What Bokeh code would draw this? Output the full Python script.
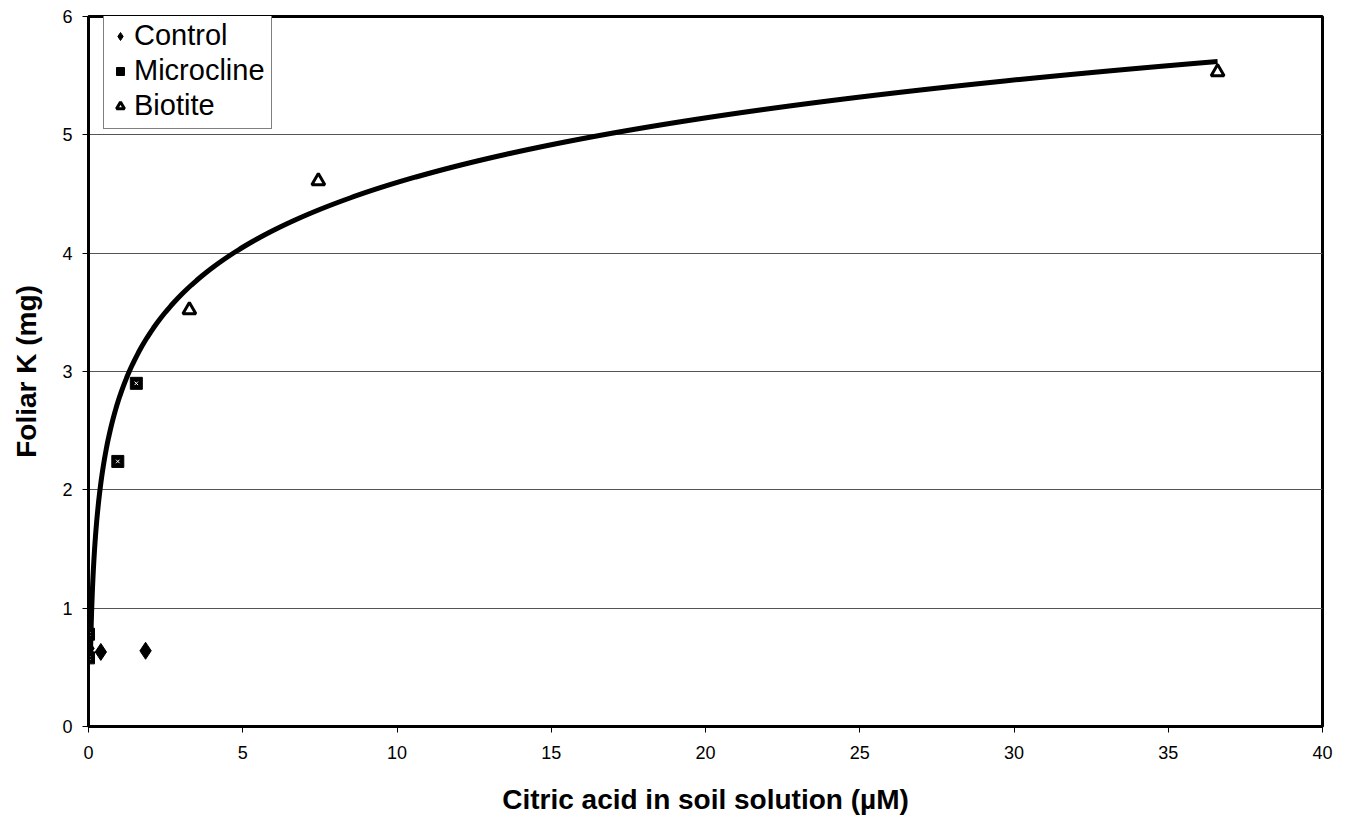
import numpy as np
from bokeh.plotting import figure
from bokeh.models import Legend, LegendItem, Range1d, FixedTicker
from bokeh.embed import file_html
from bokeh.resources import INLINE

# Data
control_x = [0.0, 0.4, 1.85]
control_y = [0.66, 0.63, 0.64]
microcline_x = [0.0, 0.0, 0.95, 1.55]
microcline_y = [0.78, 0.58, 2.24, 2.90]
biotite_x = [3.27, 7.45, 36.6]
biotite_y = [3.52, 4.61, 5.53]

# logarithmic trend line y = a + b*ln(x), coefficients
trend_a = 2.78
trend_b = 0.789
trend_x_start = 0.06
trend_x_end = 36.6

x_ticks = [0, 5, 10, 15, 20, 25, 30, 35, 40]
y_ticks = [0, 1, 2, 3, 4, 5, 6]

FONT = "Liberation Sans"

p = figure(width=1342, height=820, output_backend="svg", toolbar_location=None,
           x_range=Range1d(0, 40), y_range=Range1d(0, 6),
           min_border_left=88, min_border_right=20, min_border_top=16, min_border_bottom=94)

p.outline_line_color = "black"
p.outline_line_width = 3
p.background_fill_color = "white"

p.xgrid.grid_line_color = None
p.ygrid.grid_line_color = "#555555"
p.ygrid.grid_line_width = 1

for ax in (p.xaxis[0], p.yaxis[0]):
    ax.axis_line_width = 3
    ax.axis_line_color = "black"
    ax.major_tick_line_color = "black"
    ax.major_tick_line_width = 1
    ax.major_tick_out = 6
    ax.major_tick_in = 0
    ax.minor_tick_line_color = None
    ax.major_label_text_font = FONT
    ax.major_label_text_font_size = "18px"
    ax.major_label_text_color = "black"
    ax.axis_label_text_font = FONT
    ax.axis_label_text_font_size = "28px"
    ax.axis_label_text_font_style = "bold"
    ax.axis_label_text_color = "black"

p.xaxis.ticker = FixedTicker(ticks=x_ticks)
p.yaxis.ticker = FixedTicker(ticks=y_ticks)
p.xaxis.axis_label = "Citric acid in soil solution (µM)"
p.yaxis.axis_label = "Foliar K (mg)"
p.xaxis.major_label_standoff = 13
p.xaxis.axis_label_standoff = 22
p.yaxis.major_label_standoff = 10
p.yaxis.axis_label_standoff = 17

tx = np.geomspace(trend_x_start, trend_x_end, 400)
ty = trend_a + trend_b * np.log(tx)
p.line(tx, ty, line_color="black", line_width=5)

r_c = p.scatter(control_x, control_y, marker="diamond", size=17,
                fill_color="black", line_color="black")
r_m = p.scatter(microcline_x, microcline_y, marker="square", size=12,
                fill_color="black", line_color="black")
p.scatter(microcline_x, microcline_y, marker="x", size=5,
          line_color="white", line_width=1)
r_b = p.scatter(biotite_x, biotite_y, marker="triangle", size=13,
                fill_color="white", line_color="black", line_width=3)

legend = Legend(items=[
    LegendItem(label="Control", renderers=[r_c]),
    LegendItem(label="Microcline", renderers=[r_m]),
    LegendItem(label="Biotite", renderers=[r_b]),
], location=(15, 597))
legend.label_text_font = FONT
legend.label_text_font_size = "29px"
legend.label_text_color = "black"
legend.border_line_color = "black"
legend.border_line_width = 1
legend.background_fill_color = "white"
legend.background_fill_alpha = 1
legend.glyph_width = 20
legend.glyph_height = 30
legend.label_height = 30
legend.label_standoff = 4
legend.spacing = 2
legend.padding = 6
legend.margin = 0
p.add_layout(legend, "center")

open("out.html", "w").write(file_html(p, INLINE))
